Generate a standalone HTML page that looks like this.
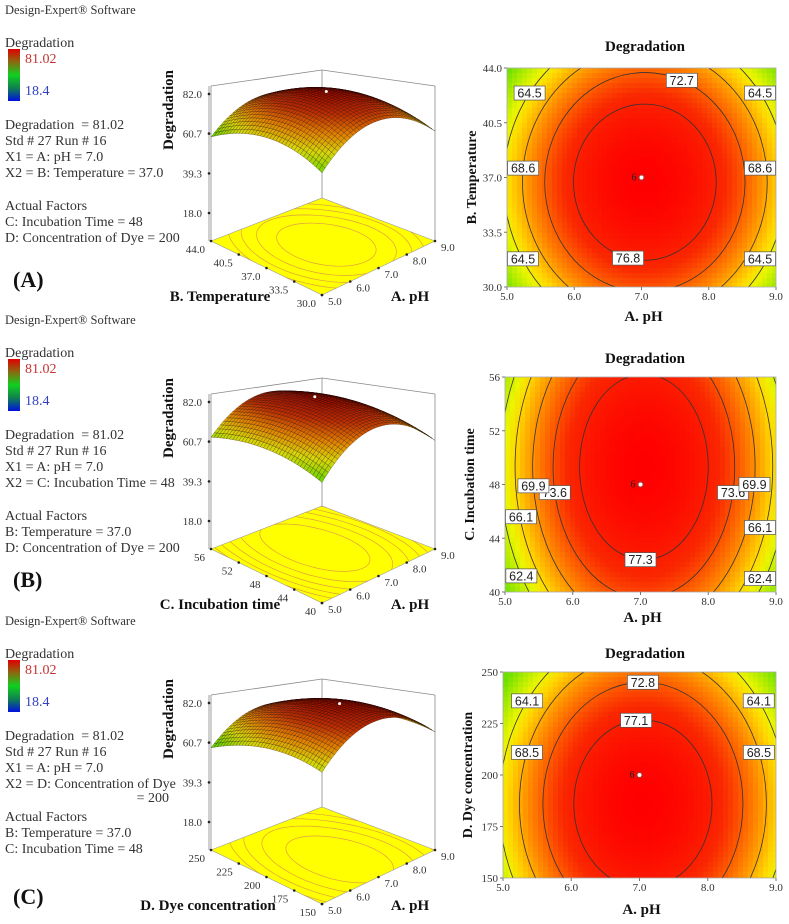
<!DOCTYPE html>
<html><head><meta charset="utf-8"><style>
html,body{margin:0;padding:0;background:#fff;overflow:hidden}
svg{display:block;font-family:"Liberation Serif",serif}
</style></head><body>
<svg id="root" width="789" height="924" viewBox="0 0 789 924" xmlns="http://www.w3.org/2000/svg">
<defs>
<linearGradient id="cbar" x1="0" y1="0" x2="0" y2="1">
<stop offset="0" stop-color="#e00000"/><stop offset="0.25" stop-color="#8a6a10"/><stop offset="0.5" stop-color="#10d020"/><stop offset="0.75" stop-color="#108050"/><stop offset="1" stop-color="#0010e0"/>
</linearGradient>
</defs>
</svg>
<script>
// ---- data ----
const pHTicks = [5.0, 6.0, 7.0, 8.0, 9.0];
const factorTicksA = [30.0, 33.5, 37.0, 40.5, 44.0];
const factorTicksB = [40, 44, 48, 52, 56];
const factorTicksC = [150, 175, 200, 225, 250];
const zTicks = [18.0, 39.3, 60.7, 82.0];
const peakValues = [81.02, 81.02, 81.02];
const quadA = [15, 16.5, 15.3];
const quadB = [8.3, 5.0, 5.9];
const centerPH = [7.05, 7.05, 7.05];
const centerFactor = [36.7, 49.3, 186];
const designFactor = [37.0, 48, 200];
const levelsA = [76.8, 72.7, 68.6, 64.5];
const levelsB = [77.3, 73.6, 69.9, 66.1, 62.4];
const levelsC = [77.1, 72.8, 68.5, 64.1];
// label anchors: [level, mode, value, side]
const labelsA = [[72.7,'u',7.6,1],[76.8,'u',6.8,-1],[68.6,'v',37.6,-1],[68.6,'v',37.6,1],[64.5,'v',42.4,-1],[64.5,'v',42.4,1],[64.5,'v',31.8,-1],[64.5,'v',31.8,1]];
const labelsB = [[77.3,'u',7.0,-1],[73.6,'v',47.4,-1],[73.6,'v',47.4,1],[69.9,'v',47.9,-1],[69.9,'v',48.0,1],[66.1,'v',45.6,-1],[66.1,'v',44.8,1],[62.4,'v',41.2,-1],[62.4,'v',41.0,1]];
const labelsC = [[72.8,'u',7.05,1],[77.1,'u',6.95,1],[68.5,'v',211,-1],[68.5,'v',211,1],[64.1,'v',236,-1],[64.1,'v',236,1]];

const NS = "http://www.w3.org/2000/svg";
const root = document.getElementById('root');
function el(tag, attrs, parent, txt){
  const e = document.createElementNS(NS, tag);
  for (const k in attrs) e.setAttribute(k, attrs[k]);
  if (txt !== undefined) e.textContent = txt;
  (parent || root).appendChild(e);
  return e;
}
function lerp(a,b,t){return a+(b-a)*t;}
function cmap(stops, t){
  t = Math.max(0, Math.min(1, t));
  for (let i=1;i<stops.length;i++){
    if (t <= stops[i][0]){
      const s0=stops[i-1], s1=stops[i], f=(t-s0[0])/(s1[0]-s0[0]);
      return 'rgb('+Math.round(lerp(s0[1],s1[1],f))+','+Math.round(lerp(s0[2],s1[2],f))+','+Math.round(lerp(s0[3],s1[3],f))+')';
    }
  }
  const s=stops[stops.length-1]; return 'rgb('+s[1]+','+s[2]+','+s[3]+')';
}
const heatStops = [[0,110,225,0],[0.28,235,245,0],[0.38,255,215,0],[0.55,255,140,0],[0.78,250,40,0],[1,255,0,0]];
const surfStops = [[0,100,210,0],[0.3,215,215,10],[0.55,225,130,0],[0.8,190,45,0],[1,160,15,0]];

const panels = [
  {key:'a', ticks:factorTicksA, levels:levelsA, labels:labelsA, fname:'B. Temperature', fmt:1,
   oy:0, fy:295, plot:{x0:507,y0:68,x1:776,y1:287}, title:46, xt:316, letter:'(A)', ly:279,
   lines:['Degradation\u00a0\u00a0= 81.02','Std # 27 Run # 16','X1 = A: pH = 7.0','X2 = B: Temperature = 37.0'],
   act:['C: Incubation Time = 48','D: Concentration of Dye = 200']},
  {key:'b', ticks:factorTicksB, levels:levelsB, labels:labelsB, fname:'C. Incubation time', fmt:0,
   oy:310, fy:603, plot:{x0:505,y0:377,x1:776,y1:592}, title:358, xt:617, letter:'(B)', ly:579,
   lines:['Degradation\u00a0\u00a0= 81.02','Std # 27 Run # 16','X1 = A: pH = 7.0','X2 = C: Incubation Time = 48'],
   act:['B: Temperature = 37.0','D: Concentration of Dye = 200']},
  {key:'c', ticks:factorTicksC, levels:levelsC, labels:labelsC, fname:'D. Dye concentration', fmt:0,
   oy:611, fy:904, plot:{x0:503,y0:672,x1:776,y1:878}, title:653, xt:909, letter:'(C)', ly:896,
   lines:['Degradation\u00a0\u00a0= 81.02','Std # 27 Run # 16','X1 = A: pH = 7.0','X2 = D: Concentration of Dye'],
   act:['B: Temperature = 37.0','C: Incubation Time = 48']}
];

panels.forEach(function(P, pi){
  const fmin = P.ticks[0], fmax = P.ticks[P.ticks.length-1];
  const pmin = pHTicks[0], pmax = pHTicks[pHTicks.length-1];
  const peak = peakValues[pi], qa = quadA[pi], qb = quadB[pi];
  const u0 = (centerPH[pi]-(pmin+pmax)/2)/((pmax-pmin)/2);
  const v0 = (centerFactor[pi]-(fmin+fmax)/2)/((fmax-fmin)/2);
  function model(u,v){ return peak - qa*(u-u0)*(u-u0) - qb*(v-v0)*(v-v0); }
  function codeU(ph){ return (ph-(pmin+pmax)/2)/((pmax-pmin)/2); }
  function codeV(f){ return (f-(fmin+fmax)/2)/((fmax-fmin)/2); }

  // ---------- left text ----------
  const g = el('g', {}, root);
  
  
  const oy = P.oy;
  let t = el('text',{x:5,y:oy+14,'font-size':12.5,fill:'#333'},g,'Design-Expert® Software');
   
  t = el('text',{x:5,y:oy+47,'font-size':14,fill:'#333'},g,'Degradation');
   
  t = el('rect',{x:8,y:oy+49,width:12,height:52,fill:'url(#cbar)'},g);
   
  t = el('text',{x:25,y:oy+63,'font-size':14,fill:'#c83030'},g,'81.02');
   
  t = el('text',{x:25,y:oy+95,'font-size':14,fill:'#3040c0'},g,'18.4');
   
  P.lines.forEach(function(s,i){
    const tt = el('text',{x:5,y:oy+129+16*i,'font-size':14,fill:'#333'},g,s);
     
  });
  let ay = oy+210;
  if (pi===2){
    const tt = el('text',{x:169,y:oy+191,'font-size':14,fill:'#333','text-anchor':'end'},g,'= 200');
     
  }
  const ta = el('text',{x:5,y:ay,'font-size':14,fill:'#333'},g,'Actual Factors');
   
  P.act.forEach(function(s,i){
    const tt = el('text',{x:5,y:ay+16*(i+1),'font-size':14,fill:'#333'},g,s);
     
  });
  t = el('text',{x:13,y:P.ly+8,'font-size':22,'font-weight':'bold',fill:'#111'},g,P.letter);
   

  // ---------- 3D surface ----------
  const s3 = el('g',{},root);
  
  
  const F = {x:322, y:P.fy}, R = {x:435, y:P.fy-54}, L = {x:211, y:P.fy-54}, BK = {x:322, y:P.fy-97};
  const kz = 1.86;
  function base(a,b){
    return [F.x*(1-a)*(1-b)+R.x*a*(1-b)+L.x*(1-a)*b+BK.x*a*b,
            F.y*(1-a)*(1-b)+R.y*a*(1-b)+L.y*(1-a)*b+BK.y*a*b];
  }
  function proj(a,b,z){
    const p = base(a,b);
    const s = 1.2 - 0.15*(a+b);
    return [p[0], p[1] - s*(28 + (z-18)*kz)];
  }
  function boxTop(a,b){ const p = base(a,b); const h = (a===1&&b===1)?128:155; return [p[0], p[1]-h]; }
  // floor
  const fl = [base(0,0),base(1,0),base(1,1),base(0,1)];
  const floor = el('polygon',{points:fl.map(p=>p.join(',')).join(' '),fill:'#ffff00',stroke:'#999','stroke-width':0.6},s3);
   
  const cpid = 'fclip'+P.key;
  const cp = el('clipPath',{id:cpid},s3);
  el('polygon',{points:fl.map(p=>p.join(',')).join(' ')},cp);
  P.levels.forEach(function(lv){
    const ru = Math.sqrt((peak-lv)/qa), rv = Math.sqrt((peak-lv)/qb);
    const pts=[];
    for (let k=0;k<=72;k++){
      const th = k/72*2*Math.PI;
      const u = u0 + ru*Math.cos(th), v = v0 + rv*Math.sin(th);
      pts.push(base((u+1)/2,(v+1)/2).map(x=>x.toFixed(1)).join(','));
    }
    const pl = el('polyline',{points:pts.join(' '),fill:'none',stroke:'#e0a040','stroke-width':0.7,'clip-path':'url(#'+cpid+')'},s3);
     
  });
  // box lines
  const boxLines = [
    [base(0,1), boxTop(0,1)], [base(1,0), boxTop(1,0)], [base(1,1), boxTop(1,1)],
    [boxTop(0,1), boxTop(1,1)], [boxTop(1,1), boxTop(1,0)]
  ];
  boxLines.forEach(function(l){
    const ln = el('line',{x1:l[0][0],y1:l[0][1],x2:l[1][0],y2:l[1][1],stroke:'#888','stroke-width':0.8},s3);
     
  });
  // surface mesh
  const N = 36;
  const quads = [];
  for (let i=0;i<N;i++) for (let j=0;j<N;j++) quads.push([i,j]);
  quads.sort((q1,q2)=>(q2[0]+q2[1])-(q1[0]+q1[1]));
  const sg = el('g',{stroke:'rgba(20,0,0,0.5)','stroke-width':0.45},s3);
   
  quads.forEach(function(q){
    const i=q[0], j=q[1];
    const corners = [[i,j],[i+1,j],[i+1,j+1],[i,j+1]];
    let zsum = 0;
    const pts = corners.map(function(c){
      const a=c[0]/N, b=c[1]/N;
      const z = model(2*a-1, 2*b-1); zsum += z;
      return proj(a,b,z).map(x=>x.toFixed(1)).join(',');
    });
    const zm = zsum/4;
    const poly = el('polygon',{points:pts.join(' '),fill:cmap(surfStops,(zm-57)/(81-57))},sg);
     
  });
  // vertical z axis (left corner, scale 1)
  const za = base(0,1);
  function zy(z){ return za[1] - 28 - (z-18)*kz; }
  let ax = el('line',{x1:za[0]-2,y1:za[1],x2:za[0]-2,y2:za[1]-155,stroke:'#888','stroke-width':0.8},s3);
   
  zTicks.forEach(function(z){
    const d = el('circle',{cx:za[0]-2,cy:zy(z),r:1.3,fill:'#222'},s3);
     
    const tl = el('text',{x:za[0]-9,y:zy(z)+4,'font-size':11,'text-anchor':'end',fill:'#333'},s3,z.toFixed(1));
     
  });
  t = el('text',{x:0,y:0,'font-size':15,'font-weight':'bold','text-anchor':'middle',fill:'#111',transform:'translate('+(za[0]-38)+','+(P.fy-185)+') rotate(-90)'},s3,'Degradation');
   
  // floor ticks
  P.ticks.forEach(function(f){
    const b=(f-fmin)/(fmax-fmin);
    const p = base(0,b);
    const d = el('circle',{cx:p[0],cy:p[1],r:1.3,fill:'#222'},s3);
     
    const tl = el('text',{x:p[0]-6,y:p[1]+12,'font-size':11,'text-anchor':'end',fill:'#333'},s3,P.fmt?f.toFixed(1):String(f));
     
  });
  pHTicks.forEach(function(ph){
    const a=(ph-pmin)/(pmax-pmin);
    const p = base(a,0);
    const d = el('circle',{cx:p[0],cy:p[1],r:1.3,fill:'#222'},s3);
     
    const tl = el('text',{x:p[0]+6,y:p[1]+10,'font-size':11,fill:'#333'},s3,ph.toFixed(1));
     
  });
  t = el('text',{x:pi===2?208:220,y:P.fy+6,'font-size':15,'font-weight':'bold','text-anchor':'middle',fill:'#111'},s3,P.fname);
   
  t = el('text',{x:410,y:P.fy+6,'font-size':15,'font-weight':'bold','text-anchor':'middle',fill:'#111'},s3,'A. pH');
   
  const pk = proj((u0+1)/2,(v0+1)/2,peak);
  t = el('circle',{cx:pk[0],cy:pk[1],r:1.5,fill:'#fff'},s3);
   

  // ---------- contour plot ----------
  const C = P.plot;
  const cg = el('g',{},root);
  
  
  function xS(ph){ return C.x0 + (ph-pmin)/(pmax-pmin)*(C.x1-C.x0); }
  function yS(f){ return C.y1 - (f-fmin)/(fmax-fmin)*(C.y1-C.y0); }
  t = el('text',{x:645,y:P.title+5,'font-size':15,'font-weight':'bold','text-anchor':'middle',fill:'#111'},cg,'Degradation');
   
  const hm = el('g',{},cg);
   
  const cw = 5, nx = Math.ceil((C.x1-C.x0)/cw), ny = Math.ceil((C.y1-C.y0)/cw);
  for (let i=0;i<nx;i++) for (let j=0;j<ny;j++){
    const x = C.x0 + i*cw, y = C.y0 + j*cw;
    const w = Math.min(cw, C.x1-x), h = Math.min(cw, C.y1-y);
    const ph = pmin + ((x+w/2)-C.x0)/(C.x1-C.x0)*(pmax-pmin);
    const f = fmax - ((y+h/2)-C.y0)/(C.y1-C.y0)*(fmax-fmin);
    const z = model(codeU(ph), codeV(f));
    const r = el('rect',{x:x,y:y,width:Math.min(w+0.4,C.x1-x),height:Math.min(h+0.4,C.y1-y),fill:cmap(heatStops,(z-57)/(81-57))},hm);
     
  }
  const ccp = 'cclip'+P.key;
  const cc = el('clipPath',{id:ccp},cg);
  el('rect',{x:C.x0,y:C.y0,width:C.x1-C.x0,height:C.y1-C.y0},cc);
  const cxp = xS(centerPH[pi]), cyp = yS(centerFactor[pi]);
  P.levels.forEach(function(lv){
    const ru = Math.sqrt((peak-lv)/qa), rv = Math.sqrt((peak-lv)/qb);
    const e = el('ellipse',{cx:cxp,cy:cyp,rx:ru*(C.x1-C.x0)/2,ry:rv*(C.y1-C.y0)/2,fill:'none',stroke:'#333','stroke-width':0.8,'clip-path':'url(#'+ccp+')'},cg);
     
  });
  t = el('rect',{x:C.x0,y:C.y0,width:C.x1-C.x0,height:C.y1-C.y0,fill:'none',stroke:'#aaa','stroke-width':0.8},cg);
   
  P.labels.forEach(function(lb){
    const lv=lb[0]; let u, v;
    const R2 = peak-lv;
    if (lb[1]==='v'){ v = codeV(lb[2]); const rem = R2 - qb*(v-v0)*(v-v0); u = u0 + lb[3]*Math.sqrt(Math.max(0,rem/qa)); }
    else { u = codeU(lb[2]); const rem = R2 - qa*(u-u0)*(u-u0); v = v0 + lb[3]*Math.sqrt(Math.max(0,rem/qb)); }
    let px = C.x0 + (u+1)/2*(C.x1-C.x0), py = C.y1 - (v+1)/2*(C.y1-C.y0);
    px = Math.max(C.x0+16, Math.min(C.x1-16, px));
    py = Math.max(C.y0+7, Math.min(C.y1-7, py));
    const lg = el('g',{},cg);
     
    el('rect',{x:px-15.5,y:py-7,width:31,height:14,fill:'#fff',stroke:'#555','stroke-width':0.7},lg);
    el('text',{x:px,y:py+4.5,'font-size':12.5,'text-anchor':'middle',fill:'#222','font-family':'"Liberation Sans",sans-serif'},lg,lv.toFixed(1));
  });
  // design point
  t = el('text',{x:xS(7.0)-10,y:yS(designFactor[pi])+3,'font-size':10,fill:'#222'},cg,'6');
   
  t = el('circle',{cx:xS(7.0),cy:yS(designFactor[pi]),r:2.6,fill:'#fff',stroke:'#a33','stroke-width':1.2},cg);
   
  pHTicks.forEach(function(ph){
    const tl = el('text',{x:xS(ph),y:C.y1+13,'font-size':11,'text-anchor':'middle',fill:'#333'},cg,ph.toFixed(1));
     
    const tk = el('line',{x1:xS(ph),y1:C.y1,x2:xS(ph),y2:C.y1+3,stroke:'#777'},cg);
     
  });
  P.ticks.forEach(function(f){
    const tl = el('text',{x:C.x0-5,y:yS(f)+4,'font-size':11,'text-anchor':'end',fill:'#333'},cg,P.fmt?f.toFixed(1):String(f));
     
    const tk = el('line',{x1:C.x0-3,y1:yS(f),x2:C.x0,y2:yS(f),stroke:'#777'},cg);
     
  });
  t = el('text',{x:xS(7.0)+2,y:P.xt+5,'font-size':15,'font-weight':'bold','text-anchor':'middle',fill:'#111'},cg,'A. pH');
   
  t = el('text',{x:0,y:0,'font-size':14,'font-weight':'bold','text-anchor':'middle',fill:'#111',transform:'translate('+(C.x0-31)+','+((C.y0+C.y1)/2)+') rotate(-90)'},cg,P.fname);
   
});
</script>
</body></html>
